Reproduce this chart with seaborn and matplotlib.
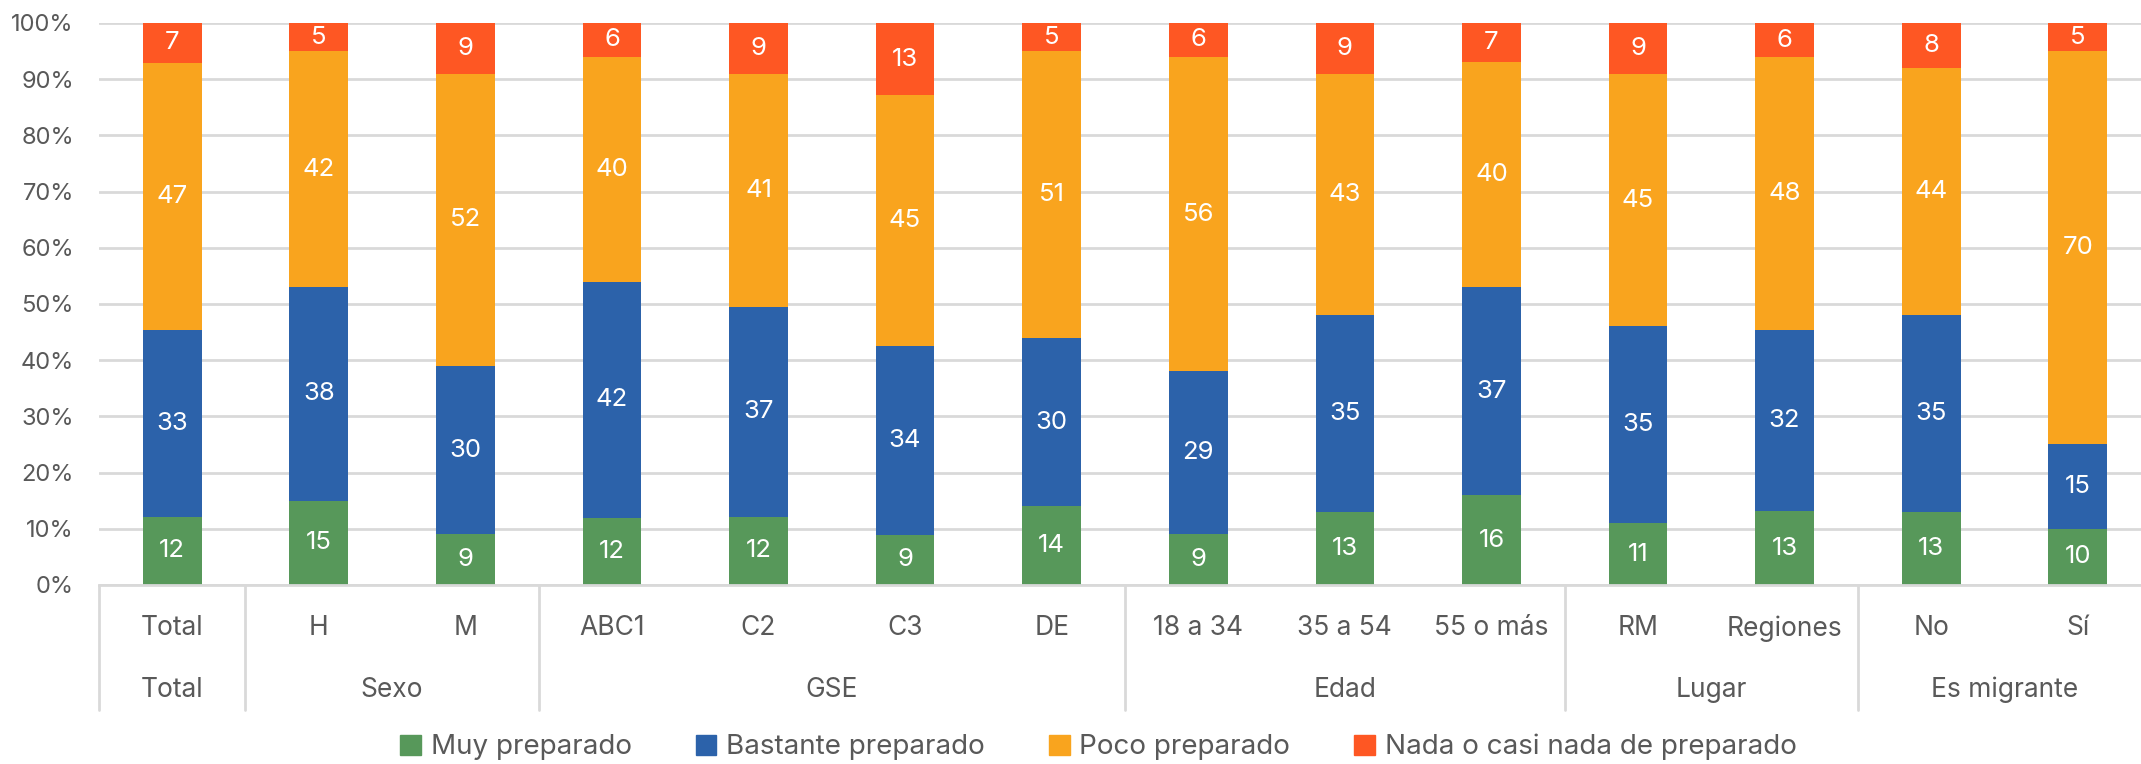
import matplotlib.pyplot as plt
import seaborn as sns
import pandas as pd
import numpy as np

# data (percent labels)
categories = ['Total', 'H', 'M', 'ABC1', 'C2', 'C3', 'DE', '18 a 34', '35 a 54',
              '55 o más', 'RM', 'Regiones', 'No', 'Sí']
groups = ['Total', 'Sexo', 'GSE', 'Edad', 'Lugar', 'Es migrante']
group_sizes = [1, 2, 4, 3, 2, 2]

muy = [12, 15, 9, 12, 12, 9, 14, 9, 13, 16, 11, 13, 13, 10]
bastante = [33, 38, 30, 42, 37, 34, 30, 29, 35, 37, 35, 32, 35, 15]
poco = [47, 42, 52, 40, 41, 45, 51, 56, 43, 40, 45, 48, 44, 70]
nada = [7, 5, 9, 6, 9, 13, 5, 6, 9, 7, 9, 6, 8, 5]

series_names = ['Muy preparado', 'Bastante preparado', 'Poco preparado',
                'Nada o casi nada de preparado']
colors = ['#57985A', '#2C62AA', '#F9A41E', '#FE5723']

df = pd.DataFrame({'cat': categories, series_names[0]: muy, series_names[1]: bastante,
                   series_names[2]: poco, series_names[3]: nada})
vals = df[series_names].to_numpy(dtype=float)
shares = vals / vals.sum(axis=1, keepdims=True) * 100
cum = np.cumsum(shares, axis=1)

sns.set_style('white')
plt.rcParams['font.family'] = ['Inter', 'DejaVu Sans']
text_color = '#595959'

fig = plt.figure(figsize=(21.41, 7.64), dpi=100)
ax = fig.add_axes([0.0462, 0.2343, 0.9585, 0.7356])

# stacked bars: draw cumulative totals from the top layer down
for i in range(3, -1, -1):
    plot_df = pd.DataFrame({'cat': categories, 'v': cum[:, i]})
    sns.barplot(data=plot_df, x='cat', y='v', color=colors[i], width=0.4,
                saturation=1, ax=ax, zorder=2, linewidth=0)

# segment labels
for j in range(len(categories)):
    for i in range(4):
        bottom = cum[j, i] - shares[j, i]
        ax.text(j, bottom + shares[j, i] / 2, f'{int(vals[j, i])}', ha='center',
                va='center', color='white', fontsize=18.5, zorder=3)

ax.set_ylim(0, 100)
ax.set_xlim(-0.5, len(categories) - 0.5)
ax.set_yticks(np.arange(0, 101, 10))
ax.set_yticklabels([f'{t}%' for t in range(0, 101, 10)], fontsize=17, color=text_color)
ax.yaxis.grid(True, color='#D9D9D9', linewidth=2, zorder=0)
ax.set_axisbelow(True)
ax.tick_params(axis='y', length=0, pad=18)
ax.set_xticks([])
ax.set_xlabel('')
ax.set_ylabel('')
for s in ['top', 'right', 'left']:
    ax.spines[s].set_visible(False)
ax.spines['bottom'].set_color('#D9D9D9')
ax.spines['bottom'].set_linewidth(2)

# two-level category axis
trans = ax.get_xaxis_transform()
for j, c in enumerate(categories):
    ax.text(j, -0.077, c, transform=trans, ha='center', va='center',
            fontsize=19, color=text_color)
start = 0
bounds = [-0.5]
for g, n in zip(groups, group_sizes):
    ax.text(start + (n - 1) / 2, -0.187, g, transform=trans, ha='center',
            va='center', fontsize=19, color=text_color)
    start += n
    bounds.append(start - 0.5)
for b in bounds[:-1]:
    ax.plot([b, b], [0, -0.222], transform=trans, color='#D9D9D9', linewidth=2,
            clip_on=False)

handles = [plt.Rectangle((0, 0), 1, 1, color=c) for c in colors]
fig.legend(handles, series_names, loc='center', bbox_to_anchor=(0.513, 0.022),
           ncol=4, frameon=False, fontsize=20, handlelength=0.75, handleheight=0.75,
           handletextpad=0.35, columnspacing=2.3, labelcolor=text_color)

plt.savefig('out.png', dpi=100)
